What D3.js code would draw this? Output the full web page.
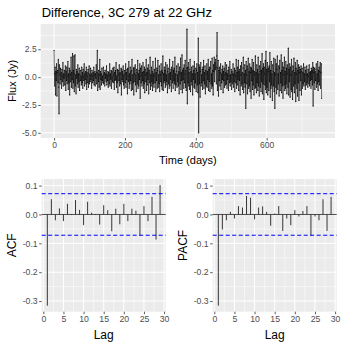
<!DOCTYPE html>
<html lang="en">
<head>
<meta charset="UTF-8">
<title>Difference, 3C 279 at 22 GHz</title>
<script src="https://cdn.jsdelivr.net/npm/d3@7"></script>
<style>
  body { margin: 0; background: #fff; }
  svg { display: block; font-family: "Liberation Sans", Arial, sans-serif; }
  .tick text { fill: #4D4D4D; }
  .tick line { stroke: #333; }
  .domain { display: none; }
</style>
</head>
<body>
<svg id="chart" width="342" height="348"></svg>
<script>
// differenced flux series (Jy), one value per day
const fluxValues = [
  2.4, 0.3, -0.8, 0.9, -1.6, 0.5, -0.3, 1.2, -1.7, 0.4, 0.6, -0.5, 1.6, -0.9, -3.3, 1.1, 0.2, -0.6, 0.8, -0.2, 0.4, -1.0, 0.7, 0.1, -0.4, 1.3, -0.8, 0.3, -0.1, 0.6, -0.7, 0.2, 1.0, -1.2, 0.5, -0.3, 0.9, -0.6, 0.1, 1.4, -1.1, 0.3, -0.5, 0.8, -1.6, 0.6, 0.2, -0.4, 1.8, -0.9,
  0.4, -0.2, 2.1, -1.0, 0.6, -0.5, 1.9, -1.3, 0.3, 2.0, -0.8, 0.2, -1.5, 0.7, -0.1, 0.5, -0.6, 1.1, -0.9, 0.3, -0.4, 0.8, -1.2, 0.2, 0.6, -0.3, 0.1, -0.7, 0.9, -0.5, 0.4, -1.0, 0.7, 0.0, -0.3, 1.2, -0.8, 0.3, -0.2, 0.5, -0.6, 0.9, -1.1, 0.4, 0.1, -0.5, 0.7, -0.9, 0.3, 1.0,
  -0.6, 0.2, -0.4, 0.8, -0.2, 0.3, -1.0, 0.6, 0.1, -0.5, 0.4, -0.3, 0.9, -0.7, 0.2, 0.5, -0.8, 0.3, -0.1, 1.1, -0.6, 0.4, 2.4, -1.2, 0.3, -0.4, 0.6, -0.9, 0.2, 1.6, -1.1, 0.5, -0.2, 0.3, -0.7, 0.8, -0.3, 0.1, -0.5, 0.9, -0.6, 0.2, 0.4, -0.8, 0.6, -0.1, 0.3, -0.4, 1.0, -0.7,
  0.2, -0.3, 0.5, -0.9, 0.4, 0.1, -0.6, 1.2, -0.8, 0.3, -0.2, 0.6, -1.0, 0.5, 0.0, -0.4, 0.8, -0.5, 0.2, 0.9, -1.1, 0.4, -0.3, 0.6, -0.2, 1.3, -0.9, 0.1, -0.5, 0.7, -1.4, 0.6, 0.2, -0.3, 1.1, -0.8, 0.4, -0.6, 0.3, 0.8, -1.6, 0.7, -0.2, 0.5, -0.4, 1.0, -0.7, 0.2, -1.0, 0.6,
  0.3, -0.5, 1.2, -0.9, 0.4, -0.2, 0.7, -1.5, 0.8, 0.1, -0.4, 1.4, -1.0, 0.3, -0.6, 0.9, -0.3, 0.5, -1.2, 0.6, 1.6, -1.1, 0.2, -0.5, 0.8, -1.6, 0.9, 0.3, -0.4, 1.1, -0.7, 0.2, -1.3, 0.7, 0.4, -0.6, 1.5, -1.0, 0.3, -0.8, 0.6, -0.2, 1.2, -1.9, 0.8, 0.1, -0.5, 1.0, -0.8, 0.4,
  -0.3, 1.3, -1.0, 0.5, -0.6, 0.9, -1.4, 0.7, 0.2, -0.4, 1.6, -1.2, 0.4, -0.7, 0.8, -0.2, 1.1, -1.5, 0.6, 0.3, -0.5, 1.8, -1.1, 0.2, -0.8, 0.9, -0.4, 0.5, -1.2, 1.4, -0.6, 0.3, -0.9, 0.7, 0.1, -0.5, 1.7, -1.3, 0.4, -0.3, 0.8, -1.0, 0.6, 1.5, -0.9, 0.2, -0.6, 1.0, -1.3, 0.5,
  0.2, -0.4, 1.2, -0.8, 0.6, -1.1, 0.4, 1.9, -1.2, 0.3, -0.5, 0.9, -0.3, 0.6, -0.9, 1.3, -0.7, 0.2, -0.4, 1.1, -1.4, 0.5, 0.8, -0.6, 0.3, -1.0, 1.6, -0.8, 0.4, -0.2, 0.7, -1.3, 0.9, 0.1, -0.5, 1.4, -1.0, 0.6, -0.3, 0.8, -0.6, 1.8, -1.2, 0.3, -0.7, 0.5, 1.0, -0.9, 0.2, -0.4,
  1.2, -0.8, 0.5, -1.5, 0.9, 0.3, -0.6, 1.7, -1.1, 0.4, -0.3, 2.0, -1.4, 0.6, -0.2, 0.8, -1.0, 1.1, -0.5, 0.3, 1.5, -0.9, 0.6, -1.2, 0.8, 4.3, -2.4, 0.9, -0.5, 1.3, -0.8, 0.4, -1.1, 0.7, 1.6, -1.3, 0.5, -0.4, 0.9, -0.7, 0.3, -1.6, 1.0, -0.2, 0.6, -0.9, 1.4, -1.0, 0.3, -0.5,
  0.8, -1.3, 0.6, 1.2, -0.7, 0.4, -1.4, 3.5, -5.0, 1.1, -0.6, 0.9, -1.8, 0.5, 1.3, -0.8, 0.2, -0.5, 0.7, -1.1, 0.9, -0.3, 1.5, -1.0, 0.4, -0.6, 1.0, -1.5, 0.6, 0.3, -0.8, 1.2, -0.9, 0.5, -0.2, 1.6, -1.2, 0.7, -0.4, 0.9, -1.3, 0.8, 1.4, -0.6, 0.3, -1.0, 1.7, -0.8, 0.6, -1.6,
  1.1, 0.5, 1.8, -0.4, 1.3, 0.7, 1.6, 0.9, -0.6, 1.9, 4.0, -1.2, 0.8, 1.5, -1.7, 0.6, -0.3, 0.9, -0.8, 0.4, 1.2, -1.1, 0.3, -0.5, 0.7, -0.2, 1.0, -1.4, 0.5, -0.3, 0.8, -0.9, 0.2, 1.3, -0.7, 0.4, -0.6, 1.1, -1.0, 0.3, -0.2, 0.6, -1.2, 0.9, 0.1, -0.5, 1.4, -0.8, 0.2, -0.4,
  0.7, -1.1, 0.5, 0.2, -0.6, 1.2, -0.9, 0.3, -0.4, 0.8, -1.3, 0.6, 0.1, -0.5, 1.6, -1.0, 0.4, -0.7, 0.9, -0.2, 1.5, -1.2, 0.5, -0.3, 0.7, -1.6, 1.0, 0.2, -0.8, 1.3, -0.6, 0.4, -1.1, 0.8, 1.8, -1.4, 0.3, -0.5, 1.1, -0.9, 0.6, -2.8, 1.4, 0.2, -0.6, 1.0, -1.5, 0.7, 1.7, -1.0,
  0.5, -0.8, 1.2, -1.3, 0.4, 0.9, -1.9, 0.8, -0.3, 1.6, -1.1, 0.6, -0.7, 1.3, -1.6, 0.5, 0.2, -1.0, 1.9, -0.9, 0.4, -1.4, 1.1, -0.5, 0.7, -1.2, 1.8, -0.8, 0.3, -1.7, 1.0, 0.5, -0.9, 1.4, -1.3, 0.6, -0.4, 2.1, -1.5, 0.8, -0.6, 1.2, -2.0, 0.9, 0.3, -0.7, 1.5, -1.1, 2.3, -1.4,
  0.7, -0.9, 1.3, -1.6, 0.5, 0.8, -1.2, 1.0, -0.4, 2.2, -1.8, 0.6, -1.0, 1.4, -0.7, 0.3, -2.1, 1.1, 0.5, -0.8, 1.7, -1.3, 0.4, -2.8, 1.6, 0.2, -0.9, 1.2, -1.5, 0.7, 1.9, -1.1, 0.3, -0.6, 1.0, -1.7, 0.8, 1.5, -1.2, 0.4, -0.5, 2.0, -1.4, 0.6, -0.8, 1.3, -1.9, 0.9, 0.2, -0.7,
  1.8, -1.2, 0.5, -1.0, 1.4, -0.6, 0.8, -1.5, 1.1, 0.3, -0.9, 2.6, -1.6, 0.7, -0.4, 1.2, -1.8, 0.9, 0.2, -1.1, 1.6, -1.3, 0.5, -2.0, 1.0, 0.6, -0.8, 1.7, -1.4, 0.4, -0.6, 1.3, -2.2, 0.8, 0.3, -1.0, 1.5, -1.7, 0.6, -0.5, 1.1, -2.1, 0.9, 0.4, -1.2, 0.7, -0.3, 1.0, -1.6, 0.5,
  0.8, -1.0, 0.4, -0.6, 1.2, -0.8, 0.3, -0.4, 0.9, -1.1, 0.6, 0.2, -0.7, 1.0, -0.5, 0.3, -0.9, 0.7, 0.1, -0.6, 1.1, -0.8, 0.4, -0.3, 0.5, -1.0, 0.8, -0.2, 0.6, -0.7, 1.3, -2.6, 0.9, 0.4, -0.5, 0.8, -1.1, 0.5, -0.3, 0.7, 1.2, -0.9, 0.3, -0.6, 1.4, -1.2, 0.6, -0.4, 0.9, -0.7,
  0.5, 1.3, -1.0, 0.4, 1.2, -1.9
];
const fluxDays = fluxValues.map((v, i) => i);

const lags = d3.range(1, 30);
const acfValues = [-0.316, 0.053, -0.020, 0.021, -0.023, 0.037, -0.002, 0.050, 0.016, -0.037,
  0.044, 0.006, -0.002, -0.035, 0.032, 0.015, -0.058, 0.020, -0.034, 0.037,
  -0.023, 0.020, 0.013, -0.074, 0.029, -0.023, 0.061, -0.087, 0.102];
const pacfValues = [-0.316, -0.052, -0.020, 0.009, -0.014, 0.029, 0.024, 0.064, 0.058, -0.017,
  0.024, 0.028, 0.009, -0.039, 0.003, 0.029, -0.057, -0.014, -0.037, 0.015,
  -0.007, 0.012, 0.029, -0.074, -0.007, -0.020, 0.053, -0.057, 0.061];
const ciLimit = 0.072;

const dayTicks = [0, 200, 400, 600];
const fluxTicks = [-5, -2.5, 0, 2.5];
const fluxLabels = ["-5.0", "-2.5", "0.0", "2.5"];
const lagTicks = [0, 5, 10, 15, 20, 25, 30];
const corrTicks = [-0.3, -0.2, -0.1, 0, 0.1];
const corrLabels = ["-0.3", "-0.2", "-0.1", "0.0", "0.1"];

const svg = d3.select("#chart");

function expand(ext) {
  const p = (ext[1] - ext[0]) * 0.05;
  return [ext[0] - p, ext[1] + p];
}

function minorOf(ticks) {
  const out = [];
  for (let i = 0; i < ticks.length - 1; i++) out.push((ticks[i] + ticks[i + 1]) / 2);
  return out;
}

// grey ggplot-like panel with grid, axes, ticks
function panel(box, x, y, xt, yt, ytLabels, fontSize) {
  const g = svg.append("g");
  g.append("rect")
    .attr("x", box.l).attr("y", box.t)
    .attr("width", box.r - box.l).attr("height", box.b - box.t)
    .attr("fill", "#EBEBEB");
  const inX = v => x(v) >= box.l && x(v) <= box.r;
  const inY = v => y(v) >= box.t && y(v) <= box.b;
  let xm = minorOf(xt), ym = minorOf(yt);
  const dx = xt[1] - xt[0], dy = yt[1] - yt[0];
  xm = [xt[0] - dx / 2, ...xm, xt[xt.length - 1] + dx / 2].filter(inX);
  ym = [yt[0] - dy / 2, ...ym, yt[yt.length - 1] + dy / 2].filter(inY);
  g.selectAll(".vmin").data(xm).join("line")
    .attr("x1", x).attr("x2", x).attr("y1", box.t).attr("y2", box.b)
    .attr("stroke", "#fff").attr("stroke-width", 0.5);
  g.selectAll(".hmin").data(ym).join("line")
    .attr("y1", y).attr("y2", y).attr("x1", box.l).attr("x2", box.r)
    .attr("stroke", "#fff").attr("stroke-width", 0.5);
  g.selectAll(".vmaj").data(xt.filter(inX)).join("line")
    .attr("x1", x).attr("x2", x).attr("y1", box.t).attr("y2", box.b)
    .attr("stroke", "#fff").attr("stroke-width", 1);
  g.selectAll(".hmaj").data(yt.filter(inY)).join("line")
    .attr("y1", y).attr("y2", y).attr("x1", box.l).attr("x2", box.r)
    .attr("stroke", "#fff").attr("stroke-width", 1);

  const ax = svg.append("g")
    .attr("transform", `translate(0,${box.b})`)
    .call(d3.axisBottom(x).tickValues(xt).tickSize(2.5).tickPadding(1.5).tickFormat(d => String(d)));
  ax.selectAll("text").attr("font-size", fontSize);
  const ay = svg.append("g")
    .attr("transform", `translate(${box.l},0)`)
    .call(d3.axisLeft(y).tickValues(yt).tickSize(2.5).tickPadding(1.5).tickFormat((d, i) => ytLabels[i]));
  ay.selectAll("text").attr("font-size", fontSize);
  svg.selectAll(".tick line").attr("stroke", "#333").attr("stroke-width", 0.8);
  return g;
}

function axisTitle(txt, x, y, rot, size) {
  svg.append("text")
    .attr("transform", `translate(${x},${y})` + (rot ? " rotate(-90)" : ""))
    .attr("text-anchor", "middle")
    .attr("font-size", size)
    .attr("fill", "#000")
    .text(txt);
}

// ---- top: time series
const topBox = { l: 40.7, r: 335, t: 24, b: 138 };
const xT = d3.scaleLinear().domain(expand(d3.extent(fluxDays))).range([topBox.l, topBox.r]);
const yT = d3.scaleLinear().domain(expand(d3.extent(fluxValues))).range([topBox.b, topBox.t]);
const gTop = panel(topBox, xT, yT, dayTicks, fluxTicks, fluxLabels, 8.5);

gTop.append("path")
  .datum(fluxValues)
  .attr("fill", "none")
  .attr("stroke", "#000")
  .attr("stroke-width", 0.55)
  .attr("d", d3.line().x((d, i) => xT(fluxDays[i])).y(d => yT(d)));
gTop.selectAll(".pt").data(fluxValues).join("circle")
  .attr("cx", (d, i) => xT(fluxDays[i]))
  .attr("cy", d => yT(d))
  .attr("r", 0.6)
  .attr("fill", "#000");

svg.append("text")
  .attr("x", 41.7).attr("y", 17)
  .attr("font-size", 13)
  .attr("fill", "#000")
  .text("Difference, 3C 279 at 22 GHz");
axisTitle("Time (days)", (topBox.l + topBox.r) / 2, 164, false, 11);
axisTitle("Flux (Jy)", 16, (topBox.t + topBox.b) / 2, true, 11);

// ---- bottom: ACF and PACF
const corrDomain = expand(d3.extent([...acfValues, ...pacfValues, ciLimit, -ciLimit]));

function corrPanel(box, values, label) {
  const x = d3.scaleLinear().domain(expand(d3.extent(lags))).range([box.l, box.r]);
  const y = d3.scaleLinear().domain(corrDomain).range([box.b, box.t]);
  const g = panel(box, x, y, lagTicks, corrTicks, corrLabels, 8.7);
  g.append("line")
    .attr("x1", box.l).attr("x2", box.r).attr("y1", y(0)).attr("y2", y(0))
    .attr("stroke", "#000").attr("stroke-width", 0.7);
  g.selectAll(".bar").data(values).join("line")
    .attr("x1", (d, i) => x(lags[i])).attr("x2", (d, i) => x(lags[i]))
    .attr("y1", y(0)).attr("y2", d => y(d))
    .attr("stroke", "#222").attr("stroke-width", 0.9);
  g.selectAll(".ci").data([ciLimit, -ciLimit]).join("line")
    .attr("x1", box.l).attr("x2", box.r).attr("y1", y).attr("y2", y)
    .attr("stroke", "#0000FF").attr("stroke-width", 1)
    .attr("stroke-dasharray", "4,2.5");
  axisTitle("Lag", (box.l + box.r) / 2, 339, false, 12);
  axisTitle(label, box.l - 25.5, (box.t + box.b) / 2, true, 12);
}

corrPanel({ l: 41.7, r: 165.7, t: 179, b: 311.7 }, acfValues, "ACF");
corrPanel({ l: 212.7, r: 336.7, t: 179, b: 311.7 }, pacfValues, "PACF");
</script>
</body>
</html>
